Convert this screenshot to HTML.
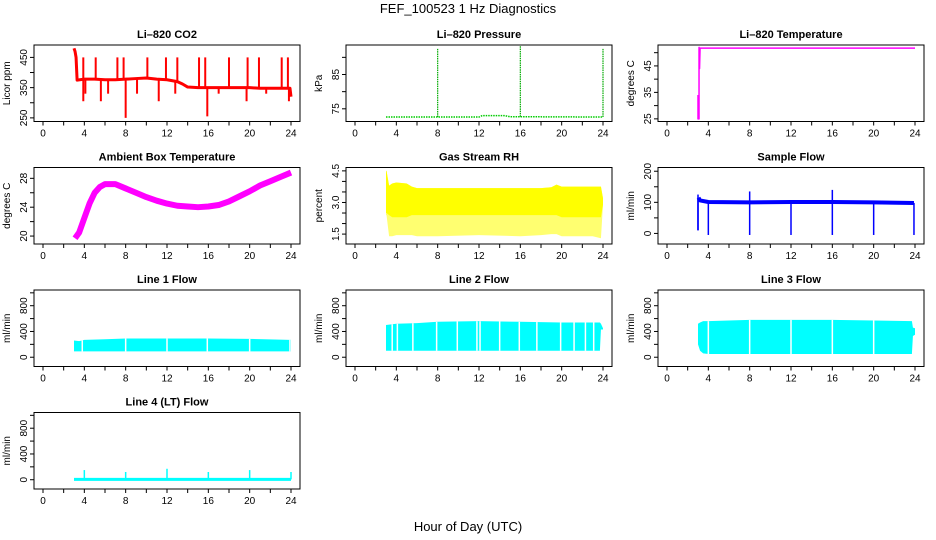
<!DOCTYPE html>
<html><head><meta charset="utf-8"><style>
html,body{margin:0;padding:0;background:#fff}
svg{display:block;font-family:"Liberation Sans",sans-serif}
</style></head><body>
<svg id="c" width="936" height="540" viewBox="0 0 936 540" xmlns="http://www.w3.org/2000/svg">
<text x="468" y="13" text-anchor="middle" font-size="13">FEF_100523  1 Hz Diagnostics</text>
<text x="468" y="531" text-anchor="middle" font-size="13">Hour of Day (UTC)</text>
</svg>
<script>
const co2Hours=[3.0,3.1,3.2,3.3,4,5,6,7,8,9,10,11,12,13,13.5,14,15,16,17,18,19,20,21,22,23,23.9,24];
const co2Vals=[480,470,450,375,378,378,376,376,378,380,382,378,376,370,362,352,350,350,350,350,350,350,348,348,348,348,320];
const co2SpikeHours=[3.9,5.1,7.2,7.8,10.1,11.9,13.0,15.1,15.7,18.0,19.8,20.9,23.1,23.7,8.0,15.9,3.9,5.6,11.2,19.7,23.8,4.1,6.3,9.1,12.8,17.0,21.6];
const co2SpikeVals=[450,450,450,450,450,450,450,450,450,450,450,450,450,450,250,255,305,305,305,305,305,330,330,330,330,330,330];
const presHours=[3,12,12.3,14.5,15,24];
const presVals=[72.6,72.6,73.0,73.0,72.7,72.6];
const presSpikeHours=[8,16,24];
const presSpikeVals=[92.5,93.5,92.5];
const tempHours=[3.0,3.0,3.1,3.1,3.15,3.2,24];
const tempVals=[34,25,25,52,44,51.7,51.7];
const ambHours=[3.1,3.5,4,4.5,5,5.5,6,7,8,9,10,11,12,13,14,15,16,17,18,19,20,21,22,23,24];
const ambVals=[19.7,20.5,22.5,24.5,26,26.8,27.2,27.2,26.6,26,25.4,24.9,24.5,24.2,24.1,24.0,24.1,24.3,24.8,25.5,26.2,27,27.6,28.2,28.8];
const rhHours=[3,3.05,3.3,3.6,4,5,5.5,6,8,12,16,18,19,19.5,20,22,23,23.8,24];
const rhHigh=[4.5,4.5,3.8,3.9,3.95,3.9,3.75,3.68,3.68,3.68,3.68,3.68,3.72,3.85,3.75,3.75,3.75,3.75,3.2];
const rhMid=[2.5,2.5,2.4,2.3,2.3,2.3,2.4,2.4,2.4,2.4,2.4,2.4,2.4,2.4,2.3,2.3,2.3,2.3,2.9];
const rhLow=[2.4,2.4,1.4,1.4,1.45,1.45,1.45,1.4,1.4,1.45,1.4,1.45,1.5,1.5,1.4,1.4,1.4,1.3,2.9];
const sfHours=[3.05,3.2,4,8,12,16,20,23.9];
const sfVals=[115,106,101,100,101,101,100,98];
const sfSpikeHours=[3.0,4,8,12,16,20,23.9,8,16];
const sfSpikeVals=[10,-5,-5,-5,-5,-5,-5,135,140];
const l1Hours=[3,3.5,4,6,8,12,16,20,23.9,24];
const l1High=[260,250,270,280,290,290,290,285,270,270];
const l1Low=[90,90,90,90,90,90,90,90,90,90];
const l1Gaps=[3.8,8.0,12.0,15.9,20.0,23.9];
const l2Hours=[3,3.5,4,6,8,12,16,20,23.7,23.8,24];
const l2High=[500,510,520,530,550,560,550,540,540,520,450];
const l2Low=[100,100,100,100,100,100,100,100,100,430,430];
const l2Gaps=[3.6,4.1,5.6,7.9,9.9,11.8,12.1,14.0,15.9,17.6,19.9,21.2,22.3,23.1];
const l3Hours=[3,3.2,3.5,4,6,8,12,16,20,23.7,23.8,24];
const l3High=[520,540,560,560,570,580,580,580,570,560,460,450];
const l3Low=[200,100,60,50,50,50,50,50,50,50,330,350];
const l3Gaps=[4.0,8.0,12.0,16.0,20.0];
const l4Hours=[3,24];
const l4Vals=[5,5];
const l4SpikeHours=[4,8,12,16,20,24];
const l4SpikeVals=[150,120,170,120,150,120];

const NS="http://www.w3.org/2000/svg";
const svg=document.getElementById('c');
const colL=[34,346,658], rowT=[45,167.5,290,412.5], BW=266, BH=76.5;
function mk(tag,attrs,parent){const e=document.createElementNS(NS,tag);for(const k in attrs)e.setAttribute(k,attrs[k]);(parent||svg).appendChild(e);return e;}
function panel(name,col,row,title,ylab,dom,ticks,labels){
  const L=colL[col],T=rowT[row];
  const g=mk('g',{});
  
  
  const X=h=>L+9+h*248/24;
  const Y=v=>T+BH-(v-dom[0])/(dom[1]-dom[0])*BH;
  const box=mk('rect',{x:L,y:T,width:BW,height:BH,fill:'none',stroke:'#000','stroke-width':1},g);
  
  
  const t=mk('text',{x:L+BW/2,y:T-7,'text-anchor':'middle','font-size':11,'font-weight':'bold'},g);t.textContent=title;
  
  
  const yl=mk('text',{x:0,y:0,'text-anchor':'middle','font-size':10,transform:`translate(${L-24},${T+BH/2}) rotate(-90)`},g);yl.textContent=ylab;
  
  
  mk('line',{x1:X(0),x2:X(24),y1:T+BH,y2:T+BH,stroke:'#000'},g);
  for(let h=0;h<=24;h+=2){
    mk('line',{x1:X(h),x2:X(h),y1:T+BH,y2:T+BH+4,stroke:'#000'},g);
    if(h%4===0){const tx=mk('text',{x:X(h),y:T+BH+15,'text-anchor':'middle','font-size':10},g);tx.textContent=h;
      
      }
  }
  mk('line',{x1:L,x2:L,y1:Y(ticks[0]),y2:Y(ticks[ticks.length-1]),stroke:'#000'},g);
  ticks.forEach(v=>mk('line',{x1:L-4,x2:L,y1:Y(v),y2:Y(v),stroke:'#000'},g));
  labels.forEach(v=>{const ty=mk('text',{x:0,y:0,'text-anchor':'middle','font-size':10,transform:`translate(${L-7},${Y(v)}) rotate(-90)`},g);ty.textContent=v;
    
    });
  const d=mk('g',{},g);
  
  
  return {X,Y,g:d};
}
function line(p,hs,vs,color,w,extra){const pts=hs.map((h,i)=>p.X(h)+','+p.Y(vs[i])).join(' ');return mk('polyline',Object.assign({points:pts,fill:'none',stroke:color,'stroke-width':w,'stroke-linejoin':'round'},extra||{}),p.g);}
function interp(hs,vs,h){if(h<=hs[0])return vs[0];for(let i=1;i<hs.length;i++){if(h<=hs[i]){const f=(h-hs[i-1])/(hs[i]-hs[i-1]);return vs[i-1]+f*(vs[i]-vs[i-1]);}}return vs[vs.length-1];}
function spikes(p,sh,sv,bh,bv,color,w,extra){sh.forEach((h,i)=>{mk('line',Object.assign({x1:p.X(h),x2:p.X(h),y1:p.Y(interp(bh,bv,h)),y2:p.Y(sv[i]),stroke:color,'stroke-width':w},extra||{}),p.g);});}
function band(p,hs,lo,hi,color){const pts=hs.map((h,i)=>p.X(h)+','+p.Y(hi[i])).concat(hs.slice().reverse().map((h,j)=>{const i=hs.length-1-j;return p.X(h)+','+p.Y(lo[i]);})).join(' ');return mk('polygon',{points:pts,fill:color},p.g);}
function gaps(p,gh,hs,lo,hi){gh.forEach(h=>mk('line',{x1:p.X(h),x2:p.X(h),y1:p.Y(interp(hs,hi,h)),y2:p.Y(interp(hs,lo,h)),stroke:'#fff','stroke-width':1.5},p.g));}

let p;
p=panel('co2',0,0,'Li\u2013820 CO2','Licor ppm',[238,491],[250,300,350,400,450],[250,350,450]);
line(p,co2Hours,co2Vals,'#f00',3);
spikes(p,co2SpikeHours,co2SpikeVals,co2Hours,co2Vals,'#f00',2);

p=panel('pressure',1,0,'Li\u2013820 Pressure','kPa',[71.3,93.6],[75,80,85,90],[75,85]);
line(p,presHours,presVals,'#0c0',1.5,{'stroke-dasharray':'1.5 1'});
spikes(p,presSpikeHours,presSpikeVals,presHours,presVals,'#0a0',1.2,{'stroke-dasharray':'1.5 0.8'});

p=panel('temperature',2,0,'Li\u2013820 Temperature','degrees C',[24,52.9],[25,30,35,40,45,50],[25,35,45]);
line(p,tempHours,tempVals,'#f0f',1.5);

p=panel('ambient',0,1,'Ambient Box Temperature','degrees C',[18.9,29.5],[20,22,24,26,28],[20,24,28]);
line(p,ambHours,ambVals,'#f0f',6);

p=panel('rh',1,1,'Gas Stream RH','percent',[1.03,4.66],[1.5,2.0,2.5,3.0,3.5,4.0,4.5],['1.5','3.0','4.5']);
band(p,rhHours,rhLow,rhHigh,'#ffff70');
band(p,rhHours,rhMid,rhHigh,'#ffff00');

p=panel('sample-flow',2,1,'Sample Flow','ml/min',[-34,212],[0,50,100,150,200],[0,100,200]);
line(p,sfHours,sfVals,'#00f',4);
spikes(p,sfSpikeHours,sfSpikeVals,sfHours,sfVals,'#00f',1.5);
mk('line',{x1:p.X(3.0),x2:p.X(3.0),y1:p.Y(10),y2:p.Y(125),stroke:'#00f','stroke-width':1.5},p.g);

const fd=[-144,1044],ft=[0,200,400,600,800,1000],fl=[0,400,800];
p=panel('line1-flow',0,2,'Line 1 Flow','ml/min',fd,ft,fl);
band(p,l1Hours,l1Low,l1High,'#0ff');gaps(p,l1Gaps,l1Hours,l1Low,l1High);
p=panel('line2-flow',1,2,'Line 2 Flow','ml/min',fd,ft,fl);
band(p,l2Hours,l2Low,l2High,'#0ff');gaps(p,l2Gaps,l2Hours,l2Low,l2High);
p=panel('line3-flow',2,2,'Line 3 Flow','ml/min',fd,ft,fl);
band(p,l3Hours,l3Low,l3High,'#0ff');gaps(p,l3Gaps,l3Hours,l3Low,l3High);
p=panel('line4-flow',0,3,'Line 4 (LT) Flow','ml/min',fd,ft,fl);
line(p,l4Hours,l4Vals,'#0ff',3);
spikes(p,l4SpikeHours,l4SpikeVals,l4Hours,l4Vals,'#0ff',1.5);
</script>
</body></html>
